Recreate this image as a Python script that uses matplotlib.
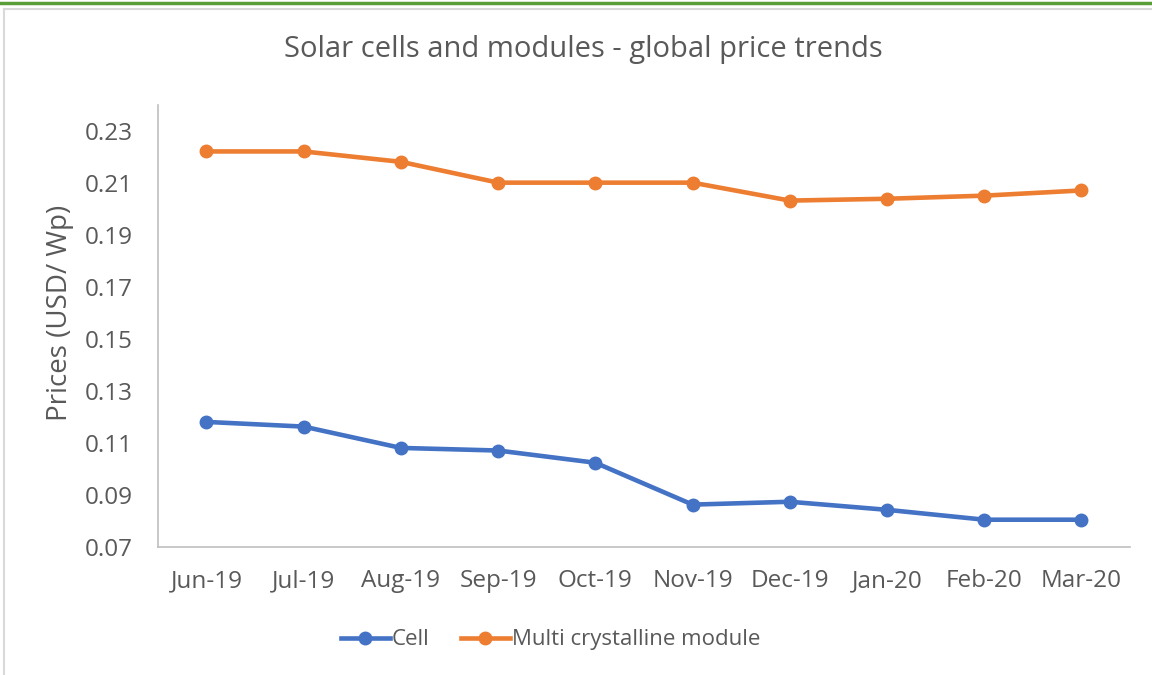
import matplotlib.pyplot as plt
from matplotlib.lines import Line2D

plt.rcParams['font.family'] = ['Open Sans', 'DejaVu Sans']

months = ['Jun-19', 'Jul-19', 'Aug-19', 'Sep-19', 'Oct-19',
          'Nov-19', 'Dec-19', 'Jan-20', 'Feb-20', 'Mar-20']
cell = [0.118, 0.1162, 0.108, 0.107, 0.1023, 0.0862, 0.0873, 0.0842, 0.0804, 0.0804]
module = [0.222, 0.222, 0.218, 0.210, 0.210, 0.210, 0.2031, 0.2038, 0.205, 0.207]
yticks = [0.07, 0.09, 0.11, 0.13, 0.15, 0.17, 0.19, 0.21, 0.23]

text_col = '#595959'
fig = plt.figure(figsize=(11.52, 6.75), dpi=100)
ax = fig.add_axes([0.137, 0.19, 0.844, 0.655])

x = range(len(months))
ax.plot(x, cell, color='#4472C4', lw=3.3, marker='o', ms=9, label='Cell')
ax.plot(x, module, color='#ED7D31', lw=3.3, marker='o', ms=9,
        label='Multi crystalline module')

ax.set_xlim(-0.5, len(months) - 0.5)
ax.set_ylim(0.07, 0.24)
ax.set_xticks(list(x))
ax.set_xticklabels(months)
ax.set_yticks(yticks)
ax.set_yticklabels([f'{v:.2f}' for v in yticks])
ax.tick_params(length=0, labelsize=17.5, colors=text_col)
ax.tick_params(axis='x', pad=16)
ax.tick_params(axis='y', pad=18)
for s in ['top', 'right']:
    ax.spines[s].set_visible(False)
for s in ['left', 'bottom']:
    ax.spines[s].set_color('#BFBFBF')
    ax.spines[s].set_linewidth(1.2)

ax.set_ylabel('Prices (USD/ Wp)', fontsize=20, color=text_col)
ax.yaxis.set_label_coords(-0.086, 0.53)
fig.text(0.506, 0.926, 'Solar cells and modules - global price trends',
         ha='center', va='center', fontsize=21, color=text_col)

fig.legend(handles=ax.get_lines(), loc='center', bbox_to_anchor=(0.478, 0.052),
           ncol=2, frameon=False, fontsize=16, labelcolor=text_col,
           handlelength=2.2, handletextpad=0.1, columnspacing=1.4)

# page decorations: green rule and chart frame
fig.add_artist(Line2D([0, 1], [0.996, 0.996], color='#5A9E3A', lw=2.5))
fig.add_artist(Line2D([0.0035, 0.0035], [0, 0.987], color='#D9D9D9', lw=1.5))
fig.add_artist(Line2D([0.0035, 1], [0.987, 0.987], color='#D9D9D9', lw=1.5))

fig.savefig('out.png', dpi=100)
